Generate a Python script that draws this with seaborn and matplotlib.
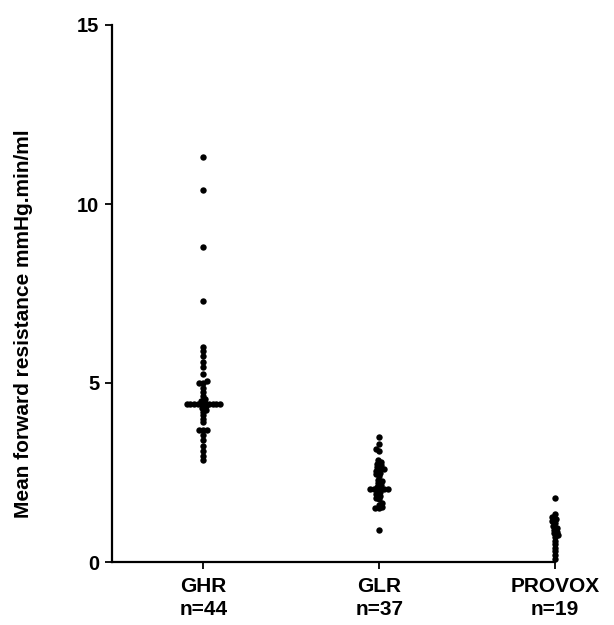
import numpy as np
import pandas as pd
import matplotlib
matplotlib.use("Agg")
import matplotlib.pyplot as plt
import seaborn as sns

categories = ["GHR", "GLR", "PROVOX"]
tick_labels = ["GHR\nn=44", "GLR\nn=37", "PROVOX\nn=19"]

ghr = [11.3, 10.4, 8.8, 7.3, 6.0, 5.9, 5.75, 5.6, 5.45, 5.25, 5.05, 5.0, 5.0,
       4.85, 4.75, 4.65, 4.55, 4.5, 4.45, 4.4, 4.4, 4.4, 4.4, 4.4, 4.4, 4.4,
       4.4, 4.4, 4.35, 4.3, 4.25, 4.2, 4.1, 4.0, 3.9, 3.7, 3.7, 3.7, 3.55,
       3.4, 3.25, 3.1, 2.95, 2.85]
glr = [3.5, 3.3, 3.15, 3.1, 2.85, 2.8, 2.75, 2.7, 2.65, 2.6, 2.6, 2.55, 2.5,
       2.45, 2.4, 2.3, 2.25, 2.2, 2.15, 2.1, 2.05, 2.05, 2.05, 2.05, 2.05,
       2.0, 1.95, 1.9, 1.85, 1.8, 1.75, 1.65, 1.6, 1.55, 1.5, 1.5, 0.9]
provox = [1.78, 1.35, 1.25, 1.2, 1.15, 1.1, 1.0, 0.95, 0.9, 0.85, 0.8, 0.75,
          0.7, 0.6, 0.5, 0.4, 0.3, 0.2, 0.08]

df = pd.DataFrame({
    "group": ["GHR"] * len(ghr) + ["GLR"] * len(glr) + ["PROVOX"] * len(provox),
    "value": ghr + glr + provox,
})

sns.set_style("ticks")
plt.rcParams["font.family"] = ["Liberation Sans", "DejaVu Sans"]
plt.rcParams["font.weight"] = "bold"
plt.rcParams["text.color"] = "black"
plt.rcParams["axes.labelcolor"] = "black"
plt.rcParams["xtick.color"] = "black"
plt.rcParams["ytick.color"] = "black"

fig = plt.figure(figsize=(6.14, 6.25), dpi=100)
ax = fig.add_axes([0.182, 0.1008, 0.722, 0.8592])

ax.set_xlim(-0.52, 2.0)
ax.set_ylim(0, 15)

# compact swarm layout (dots overlap like the original printed figure)
sns.swarmplot(data=df, x="group", y="value", order=categories, color="black",
              size=2.6, linewidth=0, ax=ax, warn_thresh=1)
ax.set_xlim(-0.52, 2.0)
ax.set_ylim(0, 15)
fig.canvas.draw()
for c in ax.collections:
    if "draw" in c.__dict__:
        del c.__dict__["draw"]
    c.set_clip_on(False)
    c.set_sizes([4.6 ** 2])

ax.set_yticks([0, 5, 10, 15])
ax.set_xticks([0, 1, 2])
ax.set_xticklabels(tick_labels, fontsize=15, fontweight="bold", linespacing=1.25)
ax.set_yticklabels(["0", "5", "10", "15"], fontsize=14.5, fontweight="bold")
ax.set_xlabel("")
ax.set_ylabel("Mean forward resistance mmHg.min/ml", fontsize=15, fontweight="bold")
ax.yaxis.set_label_coords(-0.178, 0.443)

for s in ["top", "right"]:
    ax.spines[s].set_visible(False)
for s in ["left", "bottom"]:
    ax.spines[s].set_linewidth(1.6)
    ax.spines[s].set_color("black")
ax.tick_params(axis="both", length=5, width=1.3, color="black", pad=4)
ax.tick_params(axis="x", pad=6)

fig.savefig("out.png", dpi=100)
